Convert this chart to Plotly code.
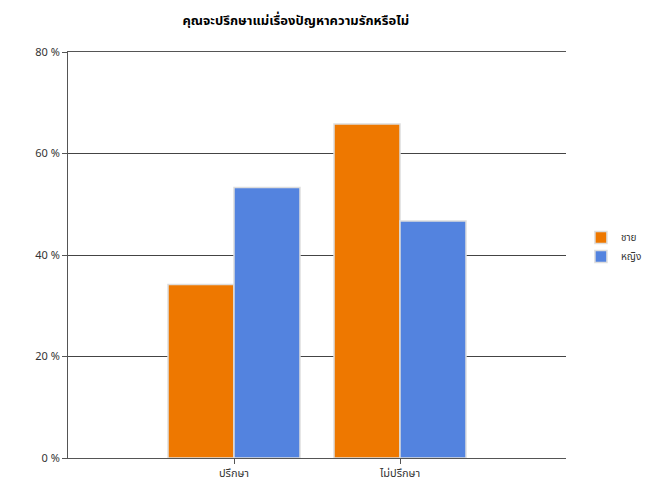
import plotly.graph_objects as go

categories = ["ปรึกษา", "ไม่ปรึกษา"]
male = [34.2, 65.8]
female = [53.3, 46.7]
series_names = ["ชาย", "หญิง"]
y_ticks = [0, 20, 40, 60, 80]
y_tick_labels = ["0 %", "20 %", "40 %", "60 %", "80 %"]

font_family = "Tahoma, 'Noto Sans Thai', 'DejaVu Sans', Arial, sans-serif"

fig = go.Figure()
fig.add_trace(go.Bar(
    x=categories, y=male, name=series_names[0],
    marker=dict(color="#EE7800", line=dict(color="#DDDDDD", width=1.5)),
))
fig.add_trace(go.Bar(
    x=categories, y=female, name=series_names[1],
    marker=dict(color="#5383DF", line=dict(color="#DDDDDD", width=1.5)),
))

# page body has an 8px default margin, so the figure is sized to fit inside
fig.update_layout(
    width=651, height=484,
    barmode="group", bargap=0.205, bargroupgap=0,
    plot_bgcolor="white", paper_bgcolor="white",
    margin=dict(l=60, r=93, t=44, b=34, autoexpand=False),
    font=dict(family=font_family, size=11, color="#333333"),
    title=dict(text="<b>คุณจะปรึกษาแม่เรื่องปัญหาความรักหรือไม่</b>",
               x=0.442, xanchor="center", y=0.975, yanchor="middle",
               font=dict(size=13, color="#000000")),
    legend=dict(x=1.03, y=0.52, xanchor="left", yanchor="middle",
                font=dict(size=10, color="#333333"), itemwidth=30,
                tracegroupgap=1),
    xaxis=dict(range=[-1, 2], showline=True, linecolor="#555555", linewidth=1,
               mirror=True, automargin=False,
               ticks="outside", ticklen=5, tickcolor="#555555",
               showgrid=False, tickfont=dict(size=11, color="#333333")),
    yaxis=dict(range=[0, 80], tickmode="array", tickvals=y_ticks, ticktext=y_tick_labels,
               showline=True, linecolor="#555555", linewidth=1, automargin=False,
               ticks="outside", ticklen=5, tickcolor="#555555",
               showgrid=True, gridcolor="#444444", gridwidth=1,
               zeroline=False, tickfont=dict(size=11, color="#333333")),
)

fig.write_html("out.html")
